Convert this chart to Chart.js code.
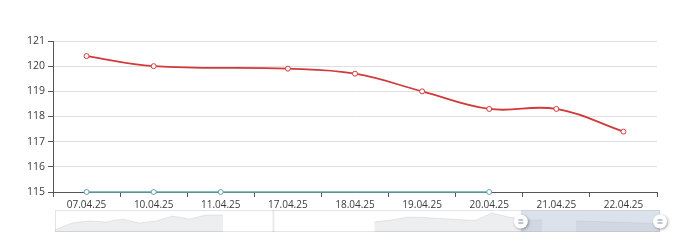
<!DOCTYPE html>
<html>
<head>
<meta charset="utf-8">
<script src="https://cdn.jsdelivr.net/npm/chart.js@4/dist/chart.umd.min.js"></script>
<style>
  html, body { margin: 0; padding: 0; background: #fff; }
  #wrap { position: relative; width: 680px; height: 243px; }
  canvas { position: absolute; left: 0; top: 0; }
</style>
</head>
<body>
<div id="wrap">
  <canvas id="main" width="680" height="243"></canvas>
  <canvas id="slider" width="680" height="243"></canvas>
</div>
<script>
// ---- data ----
const categories = ['07.04.25','10.04.25','11.04.25','17.04.25','18.04.25','19.04.25','20.04.25','21.04.25','22.04.25'];
const redSeries  = [120.4, 120.0, null, 119.9, 119.7, 119.0, 118.3, 118.3, 117.4];
const tealSeries = [115, 115, 115, null, null, null, 115, null, null];
const yTickValues = [115, 116, 117, 118, 119, 120, 121];

// slider (dataZoom) overview shadow
const sliderShadow = [2, 9, 11, 10, 13, 9, 11, 16, 13, 17, 17, null, null, null, null, null, null, null, null,
                      10, 12, 15, 14.5, 13.5, 12.5, 11.5, 19, 15, 12, 12, null, 11, 10.5, 10, 9.5, 9, 8];
const sliderSpike  = [null, null, null, null, null, null, null, null, null, null, null, null, null, 22, null, null, null, null, null,
                      null, null, null, null, null, null, null, null, null, null, null, null, null, null, null, null, null, null];
const zoomRange = [77, 100]; // percent

const FONT = "'Open Sans', 'Noto Sans', sans-serif";
const axisColor = '#555';
const labelColor = '#3a3a3a';
const redColor = '#d23a3a';
const tealColor = '#61a6ae';

new Chart(document.getElementById('main'), {
  type: 'line',
  data: {
    labels: categories,
    datasets: [
      {
        data: redSeries,
        borderColor: redColor,
        borderWidth: 1.8,
        backgroundColor: '#ffffff',
        pointBackgroundColor: '#ffffff',
        pointBorderColor: redColor,
        pointBorderWidth: 1,
        pointRadius: 2.5,
        tension: 0.4,
        spanGaps: true,
        clip: false
      },
      {
        data: tealSeries,
        borderColor: tealColor,
        borderWidth: 1.5,
        backgroundColor: '#ffffff',
        pointBackgroundColor: '#ffffff',
        pointBorderColor: tealColor,
        pointBorderWidth: 1,
        pointRadius: 2.5,
        tension: 0,
        spanGaps: true,
        clip: false
      }
    ]
  },
  options: {
    responsive: false,
    animation: false,
    devicePixelRatio: 1,
    layout: { padding: { top: 41, right: 23, bottom: 33, left: 0 } },
    plugins: { legend: { display: false }, tooltip: { enabled: false } },
    scales: {
      x: {
        type: 'category',
        offset: true,
        afterFit: (s) => { s.height = 18; },
        grid: { display: true, drawOnChartArea: false, offset: true, tickLength: 5, tickColor: axisColor },
        border: { display: true, color: axisColor, width: 1 },
        ticks: { color: labelColor, font: { family: FONT, size: 10 }, padding: 2, maxRotation: 0, autoSkip: false }
      },
      y: {
        min: 115, max: 121,
        afterFit: (s) => { s.width = 53; },
        afterBuildTicks: (s) => { s.ticks = yTickValues.map(v => ({ value: v })); },
        grid: { color: '#e0e0e0', tickLength: 5, tickColor: axisColor },
        border: { display: true, color: axisColor, width: 1 },
        ticks: { color: labelColor, font: { family: FONT, size: 10.5 }, padding: 3 }
      }
    }
  }
});

// ---- slider overlay plugin ----
const sliderDecor = {
  id: 'sliderDecor',
  beforeDatasetsDraw(chart) {
    const { ctx, chartArea: a } = chart;
    ctx.save();
    ctx.strokeStyle = '#e2e4e8';
    ctx.lineWidth = 1;
    ctx.strokeRect(a.left + 0.5, a.top + 0.5, a.right - a.left - 1, a.bottom - a.top - 1);
    ctx.restore();
  },
  afterDatasetsDraw(chart) {
    const { ctx, chartArea: a } = chart;
    const w = a.right - a.left;
    const x0 = a.left + w * zoomRange[0] / 100;
    const x1 = a.left + w * zoomRange[1] / 100;
    ctx.save();
    ctx.fillStyle = 'rgba(167,183,204,0.4)';
    ctx.fillRect(x0, a.top, x1 - x0, a.bottom - a.top);
    const cy = a.top + 11.5;
    [x0, x1].forEach(x => {
      ctx.save();
      ctx.shadowColor = 'rgba(0,0,0,0.35)';
      ctx.shadowBlur = 3;
      ctx.shadowOffsetX = 1;
      ctx.shadowOffsetY = 1;
      ctx.beginPath();
      ctx.arc(x, cy, 7, 0, Math.PI * 2);
      ctx.fillStyle = '#ffffff';
      ctx.fill();
      ctx.restore();
      ctx.strokeStyle = '#7f8b99';
      ctx.lineWidth = 1.2;
      ctx.beginPath();
      ctx.moveTo(x - 2.5, cy - 1.5); ctx.lineTo(x + 2.5, cy - 1.5);
      ctx.moveTo(x - 2.5, cy + 1.5); ctx.lineTo(x + 2.5, cy + 1.5);
      ctx.stroke();
    });
    ctx.restore();
  }
};

new Chart(document.getElementById('slider'), {
  type: 'line',
  data: {
    labels: sliderShadow.map((_, i) => i),
    datasets: [
      {
        type: 'line',
        data: sliderShadow,
        borderColor: 'rgba(47,69,84,0.12)',
        borderWidth: 0.8,
        backgroundColor: 'rgba(47,69,84,0.09)',
        fill: 'origin',
        pointRadius: 0,
        tension: 0,
        spanGaps: false
      },
      {
        type: 'bar',
        data: sliderSpike,
        backgroundColor: 'rgba(47,69,84,0.12)',
        barThickness: 1
      }
    ]
  },
  options: {
    responsive: false,
    animation: false,
    devicePixelRatio: 1,
    layout: { padding: { top: 210, right: 20, bottom: 11, left: 55 } },
    plugins: { legend: { display: false }, tooltip: { enabled: false } },
    scales: {
      x: { type: 'category', offset: false, display: false },
      y: { min: 0, max: 22, display: false }
    }
  },
  plugins: [sliderDecor]
});
</script>
</body>
</html>
